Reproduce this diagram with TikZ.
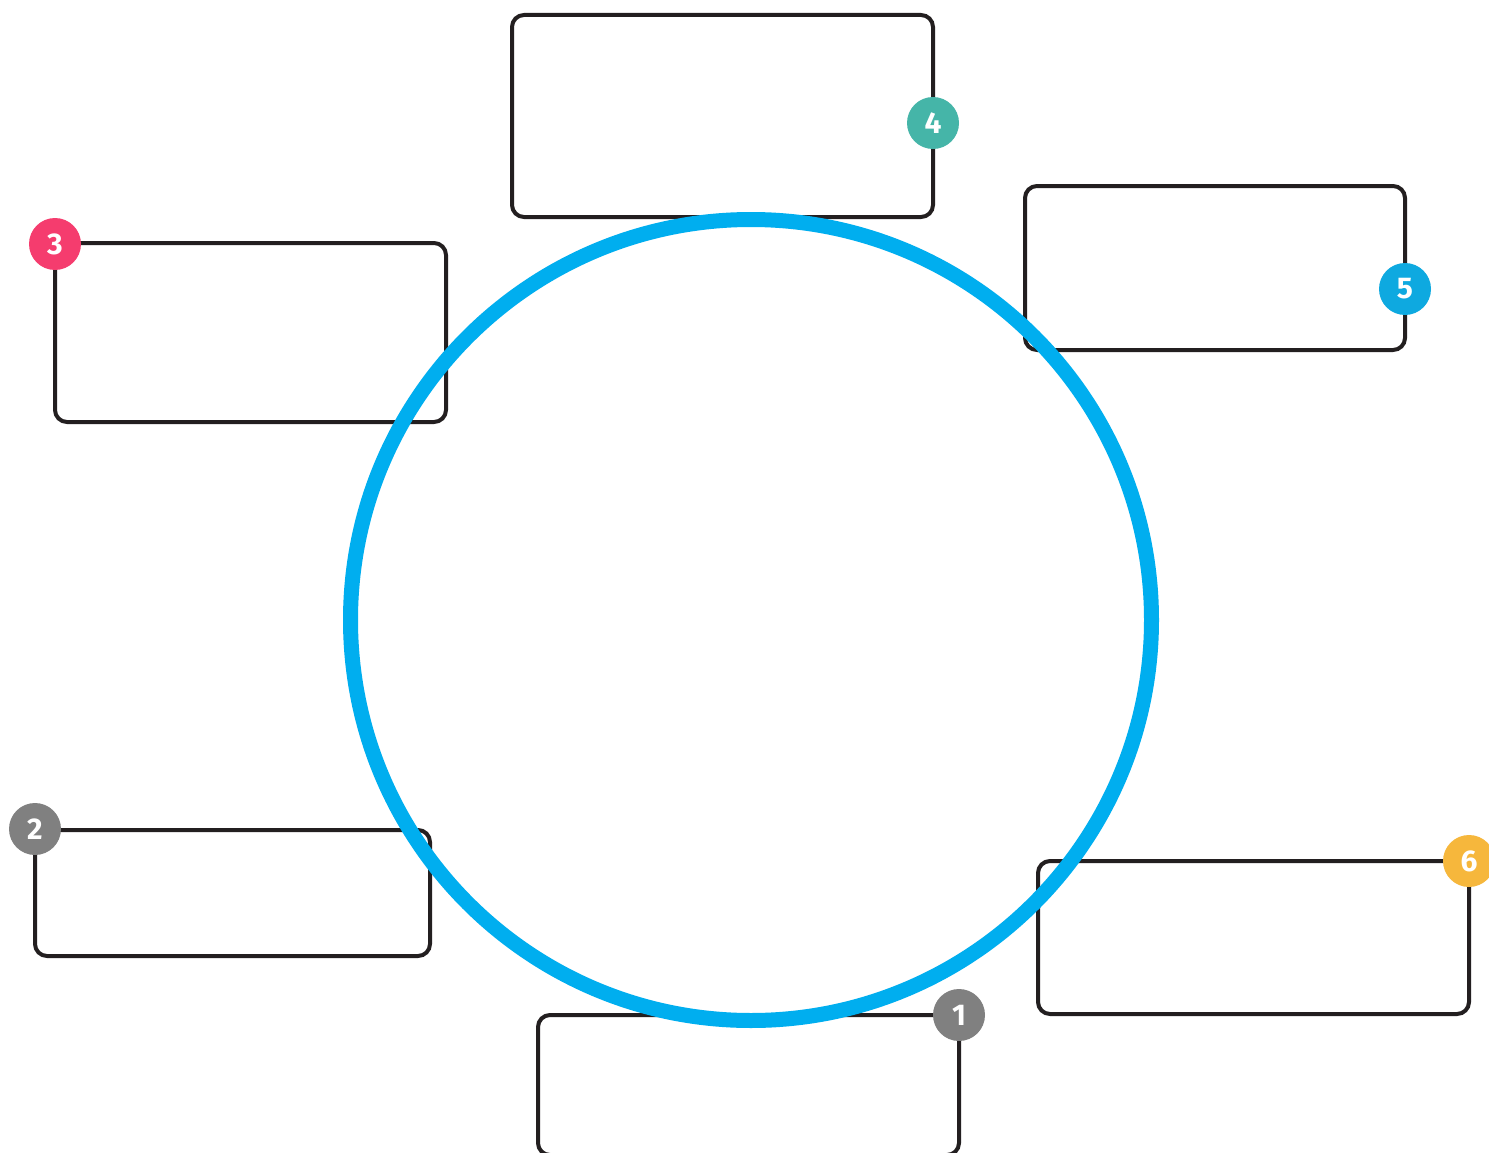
\documentclass[tikz,border=0pt]{standalone}
\usepackage{fontspec}
\setmainfont{Fira Sans}
\definecolor{boxline}{HTML}{231F20}
\definecolor{ringblue}{HTML}{00AEEF}
\definecolor{cteal}{HTML}{45B5A8}
\definecolor{cpink}{HTML}{F53C6E}
\definecolor{cgray}{HTML}{808080}
\definecolor{cyellow}{HTML}{F6B73C}
\definecolor{cblue}{HTML}{0EA9E0}
\tikzset{
  infobox/.style={draw=boxline, line width=4pt, rounded corners=12pt, inner sep=0pt, outer sep=0pt},
  badge/.style={circle, fill=#1, minimum size=52pt, inner sep=0pt, text=white,
    font=\fontsize{30}{30}\selectfont\bfseries},
}
\begin{document}
\begin{tikzpicture}[x=1pt,y=-1pt]
\useasboundingbox (0,0) rectangle (1489,1153);
\clip (0,0) rectangle (1489,1153);
\fill[white] (0,0) rectangle (1489,1153);
% boxes
\node[infobox, minimum width=421pt, minimum height=202pt] (b4) at (722.5,116) {};
\node[infobox, minimum width=380pt, minimum height=164pt] (b5) at (1215,268) {};
\node[infobox, minimum width=391pt, minimum height=179pt] (b3) at (250.5,332.5) {};
\node[infobox, minimum width=395pt, minimum height=126pt] (b2) at (232.5,893) {};
\node[infobox, minimum width=431pt, minimum height=153pt] (b6) at (1253.5,937.5) {};
\node[infobox, minimum width=421pt, minimum height=140pt] (b1) at (748.5,1085) {};
% ring
\node[circle, draw=ringblue, line width=15pt, minimum size=801pt, inner sep=0pt] (ring) at (751,620) {};
% badges
\node[badge=cteal] (n4) at (933,123) {4};
\node[badge=cblue] (n5) at (1405,289) {5};
\node[badge=cpink] (n3) at (55,244) {3};
\node[badge=cgray] (n2) at (35,829) {2};
\node[badge=cyellow] (n6) at (1469,861) {6};
\node[badge=cgray] (n1) at (959,1015) {1};
\end{tikzpicture}
\end{document}
